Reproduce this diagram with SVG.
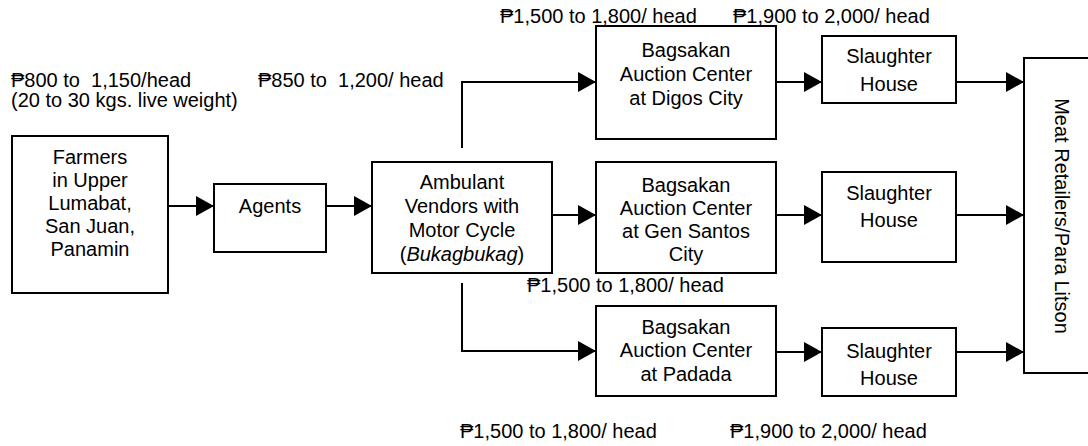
<svg xmlns="http://www.w3.org/2000/svg" width="1088" height="446" viewBox="0 0 1088 446">
<style>
text{font-family:"Liberation Sans",Arial,"DejaVu Sans",sans-serif;font-size:20px;fill:#000;white-space:pre}
.c{text-anchor:middle}
.box{fill:#fff;stroke:#000;stroke-width:2}
.ln{fill:none;stroke:#000;stroke-width:2;marker-end:url(#ah)}
</style>
<defs>
<marker id="ah" markerUnits="userSpaceOnUse" markerWidth="20" markerHeight="22" refX="18" refY="10" orient="auto">
<path d="M0,0 L18,10 L0,20 Z" fill="#000"/>
</marker>
</defs>
<rect width="1088" height="446" fill="#fff"/>
<g id="labels">
<text x="11" y="87" xml:space="preserve">₱800 to  1,150/head</text>
<text x="11" y="107">(20 to 30 kgs. live weight)</text>
<text x="258" y="87" xml:space="preserve">₱850 to  1,200/ head</text>
<text x="500" y="23">₱1,500 to 1,800/ head</text>
<text x="733" y="23">₱1,900 to 2,000/ head</text>
<text x="527" y="292">₱1,500 to 1,800/ head</text>
<text x="460" y="438">₱1,500 to 1,800/ head</text>
<text x="730" y="438">₱1,900 to 2,000/ head</text>
</g>
<g id="connectors">
<line class="ln" x1="168" y1="206" x2="214" y2="206"/>
<line class="ln" x1="326" y1="206" x2="372" y2="206"/>
<path class="ln" d="M462,148 V82 H596"/>
<line class="ln" x1="552" y1="215" x2="596" y2="215"/>
<path class="ln" d="M462,283 V351 H596"/>
<line class="ln" x1="776" y1="82" x2="822" y2="82"/>
<line class="ln" x1="776" y1="215" x2="822" y2="215"/>
<line class="ln" x1="776" y1="352" x2="822" y2="352"/>
<line class="ln" x1="956" y1="82" x2="1024" y2="82"/>
<line class="ln" x1="956" y1="215" x2="1024" y2="215"/>
<line class="ln" x1="956" y1="352" x2="1024" y2="352"/>
</g>
<g id="farmers">
<rect class="box" x="12" y="136" width="156" height="157"/>
<text class="c" x="90" y="164">Farmers</text>
<text class="c" x="90" y="187">in Upper</text>
<text class="c" x="90" y="210">Lumabat,</text>
<text class="c" x="90" y="233">San Juan,</text>
<text class="c" x="90" y="256">Panamin</text>
</g>
<g id="agents">
<rect class="box" x="214" y="184" width="112" height="68"/>
<text class="c" x="270" y="213">Agents</text>
</g>
<g id="ambulant">
<rect class="box" x="372" y="162" width="180" height="111"/>
<text class="c" x="462" y="189">Ambulant</text>
<text class="c" x="462" y="213">Vendors with</text>
<text class="c" x="462" y="237">Motor Cycle</text>
<text class="c" x="462" y="261">(<tspan font-style="italic">Bukagbukag</tspan>)</text>
</g>
<g id="digos">
<rect class="box" x="596" y="26" width="180" height="113"/>
<text class="c" x="686" y="57">Bagsakan</text>
<text class="c" x="686" y="81">Auction Center</text>
<text class="c" x="686" y="105">at Digos City</text>
</g>
<g id="gensantos">
<rect class="box" x="596" y="162" width="180" height="111"/>
<text class="c" x="686" y="192">Bagsakan</text>
<text class="c" x="686" y="215">Auction Center</text>
<text class="c" x="686" y="238">at Gen Santos</text>
<text class="c" x="686" y="261">City</text>
</g>
<g id="padada">
<rect class="box" x="596" y="306" width="180" height="90"/>
<text class="c" x="686" y="334">Bagsakan</text>
<text class="c" x="686" y="357">Auction Center</text>
<text class="c" x="686" y="381">at Padada</text>
</g>
<g id="slaughter1">
<rect class="box" x="822" y="36" width="134" height="67"/>
<text class="c" x="889" y="63">Slaughter</text>
<text class="c" x="889" y="91">House</text>
</g>
<g id="slaughter2">
<rect class="box" x="822" y="172" width="134" height="90"/>
<text class="c" x="889" y="200">Slaughter</text>
<text class="c" x="889" y="227">House</text>
</g>
<g id="slaughter3">
<rect class="box" x="822" y="328" width="134" height="68"/>
<text class="c" x="889" y="358">Slaughter</text>
<text class="c" x="889" y="385">House</text>
</g>
<g id="retailers">
<rect class="box" x="1024" y="58" width="100" height="315"/>
<text class="c" transform="translate(1055,216) rotate(90)">Meat Retailers/Para Litson</text>
</g>
</svg>
